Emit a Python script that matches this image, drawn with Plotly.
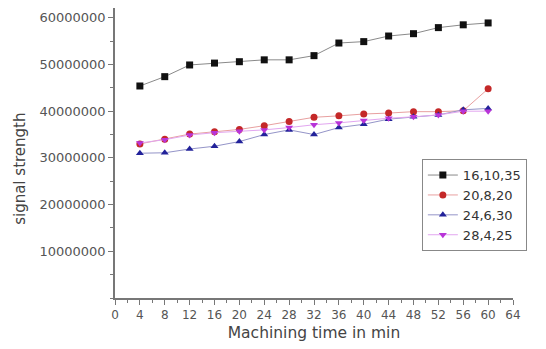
import plotly.graph_objects as go

time_min = [4, 8, 12, 16, 20, 24, 28, 32, 36, 40, 44, 48, 52, 56, 60]
s_16_10_35 = [45.4e6, 47.4e6, 49.9e6, 50.3e6, 50.6e6, 51.0e6, 51.0e6, 51.9e6, 54.6e6, 54.9e6, 56.1e6, 56.6e6, 57.9e6, 58.5e6, 58.9e6]
s_20_8_20 = [33.0e6, 34.0e6, 35.1e6, 35.6e6, 36.1e6, 36.9e6, 37.8e6, 38.7e6, 39.0e6, 39.4e6, 39.6e6, 39.9e6, 39.9e6, 40.1e6, 44.8e6]
s_24_6_30 = [31.0e6, 31.1e6, 31.9e6, 32.5e6, 33.5e6, 35.0e6, 36.0e6, 35.0e6, 36.5e6, 37.2e6, 38.3e6, 38.8e6, 39.2e6, 40.3e6, 40.6e6]
s_28_4_25 = [33.2e6, 33.9e6, 34.9e6, 35.4e6, 35.7e6, 36.0e6, 36.5e6, 37.1e6, 37.5e6, 38.0e6, 38.5e6, 38.8e6, 39.2e6, 40.0e6, 40.0e6]

series_names = ["16,10,35", "20,8,20", "24,6,30", "28,4,25"]
x_ticks = list(range(0, 65, 4))
y_ticks = [10000000, 20000000, 30000000, 40000000, 50000000, 60000000]

styles = [
    ("#111111", "#8a8a8a", "square"),
    ("#c42828", "#e8a0a0", "circle"),
    ("#22229a", "#9494c8", "triangle-up"),
    ("#b834d8", "#e2a6f0", "triangle-down"),
]

fig = go.Figure()
for name, ys, (mc, lc, sym) in zip(series_names, [s_16_10_35, s_20_8_20, s_24_6_30, s_28_4_25], styles):
    fig.add_trace(go.Scatter(
        x=time_min, y=ys, name=name, mode="lines+markers",
        line=dict(color=lc, width=1),
        marker=dict(color=mc, symbol=sym, size=7),
    ))

axis_font = dict(family="DejaVu Sans", size=12, color="#555555")
ytick_font = dict(family="DejaVu Sans", size=13, color="#555555")
fig.update_layout(
    width=546, height=349,
    margin=dict(l=107, r=41, t=0, b=59),
    paper_bgcolor="white", plot_bgcolor="white",
    showlegend=True,
    legend=dict(
        x=0.771, y=0.479, xanchor="left", yanchor="top",
        bgcolor="white", bordercolor="#888888", borderwidth=1,
        font=dict(family="DejaVu Sans", size=13, color="#333333"),
        tracegroupgap=0, itemwidth=30,
    ),
    xaxis=dict(
        range=[0, 64], tickvals=x_ticks, showgrid=False, zeroline=False,
        showline=True, linecolor="#777777", linewidth=1.5,
        ticks="outside", ticklen=5, tickcolor="#777777",
        minor=dict(dtick=2, ticks="outside", ticklen=3, tickcolor="#777777"),
        tickfont=axis_font,
        title=dict(text="Machining time in min", font=dict(family="DejaVu Sans", size=15.5, color="#444444"), standoff=6),
    ),
    yaxis=dict(
        range=[0, 62.1e6], tickvals=y_ticks, tickformat="d", showgrid=False, zeroline=False,
        showline=True, linecolor="#777777", linewidth=1.5,
        ticks="outside", ticklen=5, tickcolor="#777777",
        minor=dict(dtick=5000000, ticks="outside", ticklen=3, tickcolor="#777777"),
        tickfont=ytick_font,
    ),
    annotations=[dict(
        text="signal strength", textangle=-90, xref="paper", yref="paper",
        x=-0.239, y=0.445, showarrow=False, xanchor="center", yanchor="middle",
        font=dict(family="DejaVu Sans", size=15, color="#444444"),
    )],
)

fig.write_html("out.html")
